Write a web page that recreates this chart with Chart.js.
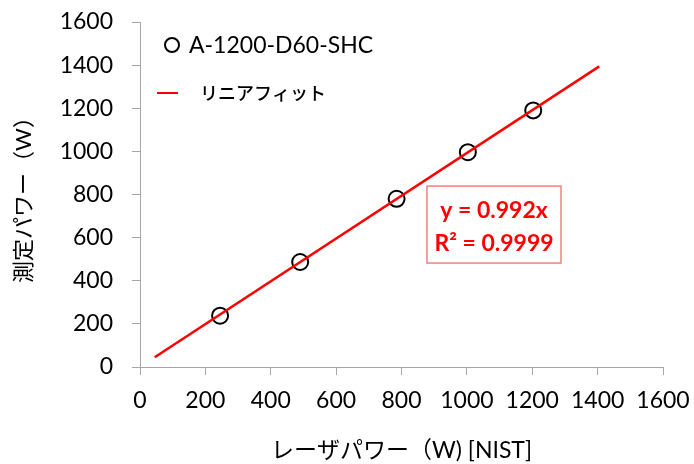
<!DOCTYPE html>
<html>
<head>
<meta charset="utf-8">
<script src="https://cdn.jsdelivr.net/npm/chart.js@4"></script>
<style>
  html, body { margin: 0; padding: 0; background: #fff; }
  #wrap { width: 694px; height: 464px; }
</style>
</head>
<body>
<div id="wrap"><canvas id="powerChart" width="694" height="464"></canvas></div>
<script>
const nistPower = [245, 490, 785, 1003, 1203];
const measuredPower = [238, 487, 780, 996, 1190];
const fitX = [45, 1405];
const fitY = [45, 1394];
const seriesName = 'A-1200-D60-SHC';
const fitName = 'リニアフィット';
const fitText = ['y = 0.992x', 'R² = 0.9999'];
const xTitle = 'レーザパワー（W) [NIST]';
const yTitle = '測定パワー（W）';

const FONT = "Lato, 'Noto Sans CJK JP', sans-serif";
const AXIS_GRAY = '#a6a6a6';

// legend + fit equation box drawn on top of the plot
const overlay = {
  id: 'overlay',
  afterDatasetsDraw(chart) {
    const { ctx, scales: { x, y } } = chart;
    ctx.save();

    // legend
    ctx.strokeStyle = '#000';
    ctx.lineWidth = 2;
    ctx.beginPath();
    ctx.arc(172, 45, 7, 0, Math.PI * 2);
    ctx.stroke();
    ctx.fillStyle = '#000';
    ctx.textBaseline = 'middle';
    ctx.textAlign = 'left';
    ctx.font = '23px ' + FONT;
    ctx.fillText(seriesName, 189, 46);

    ctx.strokeStyle = '#ff0000';
    ctx.lineWidth = 2;
    ctx.beginPath();
    ctx.moveTo(157, 93);
    ctx.lineTo(178, 93);
    ctx.stroke();
    ctx.font = "500 18px 'Noto Sans CJK JP', sans-serif";
    ctx.fillText(fitName, 200, 93);

    // equation box, anchored in data units
    const l = x.getPixelForValue(878), r = x.getPixelForValue(1288);
    const t = y.getPixelForValue(839), b = y.getPixelForValue(482);
    ctx.fillStyle = '#fff';
    ctx.fillRect(l, t, r - l, b - t);
    ctx.strokeStyle = '#f08080';
    ctx.lineWidth = 1.5;
    ctx.strokeRect(l, t, r - l, b - t);
    ctx.fillStyle = '#ff0000';
    ctx.textAlign = 'center';
    ctx.font = 'bold 23px ' + FONT;
    const cx = (l + r) / 2;
    ctx.fillText(fitText[0], cx, t + 24);
    ctx.fillText(fitText[1], cx, t + 57);
    ctx.restore();
  }
};

const plain = v => String(v);

new Chart(document.getElementById('powerChart'), {
  type: 'scatter',
  data: {
    datasets: [
      {
        label: fitName,
        type: 'line',
        data: fitX.map((v, i) => ({ x: v, y: fitY[i] })),
        borderColor: '#ff0000',
        borderWidth: 2.5,
        pointRadius: 0,
        fill: false,
        order: 0
      },
      {
        label: seriesName,
        data: nistPower.map((v, i) => ({ x: v, y: measuredPower[i] })),
        pointStyle: 'circle',
        pointRadius: 8,
        pointBorderWidth: 2,
        borderColor: '#000',
        backgroundColor: 'rgba(0,0,0,0)',
        order: 1
      }
    ]
  },
  options: {
    responsive: false,
    animation: false,
    layout: { padding: { top: 22, right: 31, left: 0, bottom: 0 } },
    plugins: {
      legend: { display: false },
      tooltip: { enabled: false }
    },
    scales: {
      x: {
        type: 'linear',
        min: 0,
        max: 1600,
        afterFit(s) { s.height = 97; s.paddingLeft = 0; s.paddingRight = 0; },
        ticks: {
          stepSize: 200,
          color: '#000',
          padding: 12,
          maxRotation: 0,
          callback: plain,
          font: { family: FONT, size: 23 }
        },
        grid: { drawOnChartArea: false, drawTicks: true, tickLength: 8, color: AXIS_GRAY },
        border: { color: AXIS_GRAY },
        title: {
          display: true,
          text: xTitle,
          color: '#000',
          padding: { top: 0, bottom: 0 },
          font: { family: FONT, size: 23 }
        }
      },
      y: {
        type: 'linear',
        min: 0,
        max: 1600,
        afterFit(s) { s.width = 140; s.paddingTop = 0; s.paddingBottom = 0; },
        ticks: {
          stepSize: 200,
          color: '#000',
          padding: 19,
          callback: plain,
          font: { family: FONT, size: 23 }
        },
        grid: { drawOnChartArea: false, drawTicks: true, tickLength: 8, color: AXIS_GRAY },
        border: { color: AXIS_GRAY },
        title: {
          display: true,
          text: yTitle,
          color: '#000',
          padding: { top: 11, bottom: 0 },
          font: { family: FONT, size: 22 }
        }
      }
    }
  },
  plugins: [overlay]
});
</script>
</body>
</html>
